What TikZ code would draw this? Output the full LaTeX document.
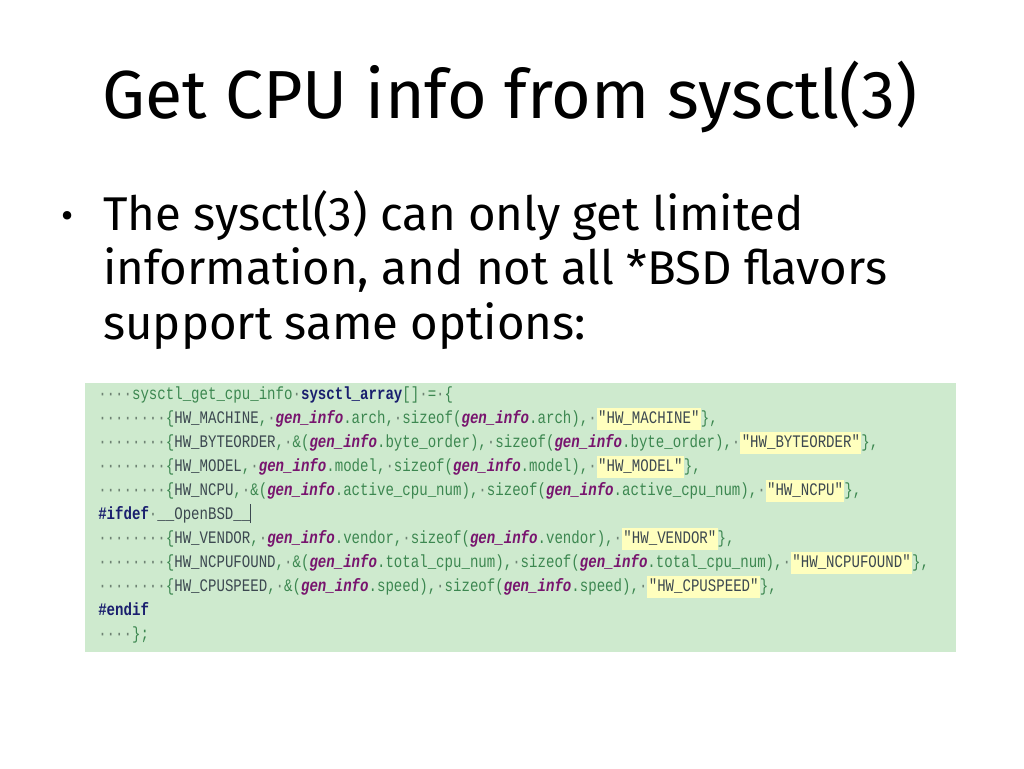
\documentclass[tikz,border=0pt]{standalone}
\usepackage{fontspec}
\setmainfont{Fira Sans}
\newfontfamily\codefont[FakeStretch=0.8]{Liberation Mono}
\definecolor{codebg}{RGB}{206,234,206}
\definecolor{codegreen}{RGB}{60,135,80}
\definecolor{hwc}{RGB}{60,72,80}
\definecolor{purp}{RGB}{120,20,110}
\definecolor{navy}{RGB}{25,30,110}
\definecolor{dotc}{RGB}{110,130,115}
\definecolor{yel}{RGB}{255,255,190}
\newcommand\dt{{\color{dotc}·}}
\newcommand\ind{\dt\dt\dt\dt\dt\dt\dt\dt}
\newcommand\gi{{\color{purp}\bfseries\itshape gen\_info}}
\newcommand\hw[1]{{\color{hwc}#1}}
\newcommand\strg[1]{{\setlength{\fboxsep}{1pt}\colorbox{yel}{\strut\color{hwc}"#1"}}}
\tikzset{codeline/.style={anchor=base west,inner sep=0pt,font=\codefont\fontsize{13.2}{15}\selectfont,text=codegreen}}
\begin{document}
\begin{tikzpicture}[x=0.75pt,y=-0.75pt]
\useasboundingbox (0,0) rectangle (1024,768);
\node[anchor=base,font=\fontsize{51}{61}\selectfont] (title) at (510,118) {Get CPU info from sysctl(3)};
\node[anchor=base,font=\fontsize{28}{34}\selectfont] (bul) at (68,228) {•};
\node[anchor=north west,align=left,font=\fontsize{35.5}{41}\selectfont,inner sep=0pt] (body) at (103,190)
 {The sysctl(3) can only get limited\\ information, and not all *BSD flavors\\ support same options:};
\fill[codebg] (85,383) rectangle (956,652);
\node[codeline] (l1) at (98,399) {\dt\dt\dt\dt sysctl\_get\_cpu\_info\dt{\color{navy}\bfseries sysctl\_array}[]\dt=\dt\{};
\node[codeline] (l2) at (98,423) {\ind\{\hw{HW\_MACHINE},\dt\gi.arch,\dt sizeof(\gi.arch),\dt\strg{HW\_MACHINE}\},};
\node[codeline] (l3) at (98,447) {\ind\{\hw{HW\_BYTEORDER},\dt\&(\gi.byte\_order),\dt sizeof(\gi.byte\_order),\dt\strg{HW\_BYTEORDER}\},};
\node[codeline] (l4) at (98,471) {\ind\{\hw{HW\_MODEL},\dt\gi.model,\dt sizeof(\gi.model),\dt\strg{HW\_MODEL}\},};
\node[codeline] (l5) at (98,495) {\ind\{\hw{HW\_NCPU},\dt\&(\gi.active\_cpu\_num),\dt sizeof(\gi.active\_cpu\_num),\dt\strg{HW\_NCPU}\},};
\node[codeline] (l6) at (98,519) {{\color{navy}\bfseries\#ifdef}\dt\hw{\_\_OpenBSD\_\_}\hw{\rule[-3pt]{0.8pt}{14pt}}};
\node[codeline] (l7) at (98,543) {\ind\{\hw{HW\_VENDOR},\dt\gi.vendor,\dt sizeof(\gi.vendor),\dt\strg{HW\_VENDOR}\},};
\node[codeline] (l8) at (98,567) {\ind\{\hw{HW\_NCPUFOUND},\dt\&(\gi.total\_cpu\_num),\dt sizeof(\gi.total\_cpu\_num),\dt\strg{HW\_NCPUFOUND}\},};
\node[codeline] (l9) at (98,591) {\ind\{\hw{HW\_CPUSPEED},\dt\&(\gi.speed),\dt sizeof(\gi.speed),\dt\strg{HW\_CPUSPEED}\},};
\node[codeline] (l10) at (98,615) {{\color{navy}\bfseries\#endif}};
\node[codeline] (l11) at (98,639) {\dt\dt\dt\dt\};};
\end{tikzpicture}
\end{document}
